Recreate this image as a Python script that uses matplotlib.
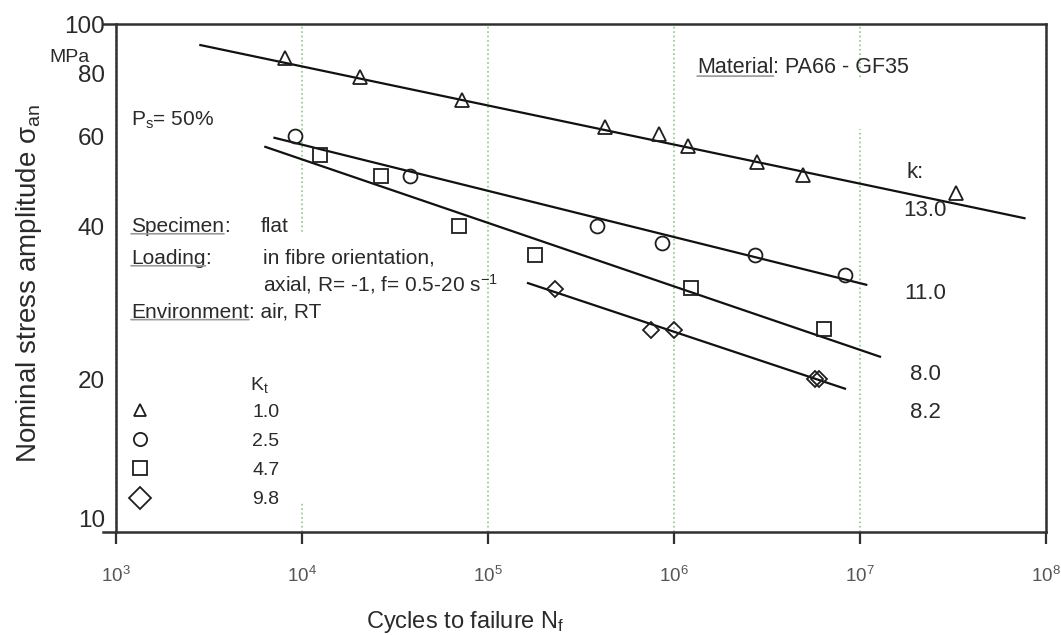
import numpy as np
import matplotlib
matplotlib.use('Agg')
import matplotlib.pyplot as plt
from matplotlib.patches import Rectangle
from matplotlib.ticker import NullLocator, LogLocator

plt.rcParams['font.family'] = ['Liberation Sans', 'DejaVu Sans']
plt.rcParams['mathtext.fontset'] = 'custom'
plt.rcParams['mathtext.rm'] = 'Liberation Sans'
plt.rcParams['mathtext.it'] = 'Liberation Sans:italic'
plt.rcParams['mathtext.bf'] = 'Liberation Sans:bold'

# S-N test results, PA66-GF35, one series per notch factor Kt
kt_labels = ['1.0', '2.5', '4.7', '9.8']
markers = ['^', 'o', 's', 'D']
msizes = [10.5, 10, 10, 8.2]

kt10_n = [8.07e3, 2.05e4, 7.24e4, 4.24e5, 8.32e5, 1.19e6, 2.81e6, 4.93e6, 3.27e7]
kt10_s = [85.7, 78.6, 70.7, 62.6, 60.7, 57.5, 53.5, 50.4, 46.4]
kt25_n = [9.22e3, 3.80e4, 3.85e5, 8.57e5, 2.73e6, 8.34e6]
kt25_s = [60.2, 50.1, 40.0, 37.1, 35.1, 32.1]
kt47_n = [1.25e4, 2.65e4, 7.00e4, 1.78e5, 1.23e6, 6.37e6]
kt47_s = [55.2, 50.1, 40.1, 35.1, 30.2, 25.1]
kt98_n = [2.28e5, 7.50e5, 1.00e6, 5.74e6, 5.98e6]
kt98_s = [30.1, 25.0, 25.0, 20.0, 20.0]

# Basquin lines: slope k, start point, end cycles
k_values = [13.0, 11.0, 8.0, 8.2]
line_n0 = [2.84e3, 7.11e3, 6.35e3, 1.64e5]
line_s0 = [90.9, 59.7, 57.3, 30.9]
line_n1 = [7.66e7, 1.08e7, 1.28e7, 8.30e6]

y_ticks = [10, 20, 40, 60, 80, 100]

txt = '#2a2a2a'

fig = plt.figure(figsize=(10.61, 6.35), dpi=100)
ax = fig.add_axes([0.0971, 0.1622, 0.8888, 0.8])
ax.set_xscale('log')
ax.set_yscale('log')
ax.set_xlim(10 ** (3 - 13 / 186), 1e8)
ax.set_ylim(10, 100)
ax.spines['left'].set_position(('data', 1e3))
for s in ax.spines.values():
    s.set_linewidth(1.8)
    s.set_color('#303030')

ax.set_axisbelow(True)
ax.grid(True, axis='x', which='major', color='#8cc88c', linestyle=':', linewidth=1.2)
ax.grid(False, axis='y')
# white backgrounds behind the annotation blocks
ax.add_patch(Rectangle((0.19, 0.059), 0.04, 0.53, transform=ax.transAxes,
                       color='white', zorder=1))
ax.add_patch(Rectangle((0.78, 0.795), 0.04, 0.099, transform=ax.transAxes,
                       color='white', zorder=1))

series = [(kt10_n, kt10_s), (kt25_n, kt25_s), (kt47_n, kt47_s), (kt98_n, kt98_s)]
handles = []
for (n, s), m, ms in zip(series, markers, msizes):
    h, = ax.plot(n, s, linestyle='none', marker=m, ms=ms, mfc='none',
                 mec='#1e1e1e', mew=1.3, zorder=3)
    handles.append(h)

for k, n0, s0, n1 in zip(k_values, line_n0, line_s0, line_n1):
    s1 = s0 * (n1 / n0) ** (-1.0 / k)
    ax.plot([n0, n1], [s0, s1], color='#111111', lw=1.6, zorder=2)

# axes ticks
ax.xaxis.set_major_locator(LogLocator(base=10, numticks=10))
ax.xaxis.set_minor_locator(NullLocator())
ax.tick_params(axis='x', which='major', direction='out', length=8.6, width=1.6,
               color='#303030', labelsize=13.5, labelcolor='#555555', pad=16)
ax.set_yticks(y_ticks)
ax.set_yticklabels([str(v) for v in y_ticks])
ax.yaxis.set_minor_locator(NullLocator())
ax.tick_params(axis='y', which='both', length=0, labelsize=17.5, labelcolor=txt, pad=8)
ax.get_yticklabels()[0].set_va('bottom')

ax.text(-0.0138, 0.935, 'MPa', transform=ax.transAxes, ha='right', va='center',
        fontsize=14, color=txt)

ax.set_ylabel('Nominal stress amplitude σ$_{\\mathrm{an}}$', fontsize=20, color=txt)
ax.yaxis.set_label_coords(-0.0626, 0.49)
ax.set_xlabel('Cycles to failure N$_{\\mathrm{f}}$', fontsize=17, color=txt)
ax.xaxis.label.set_ha('left')
ax.xaxis.set_label_coords(0.279, -0.1516)


def underlined(x, y, word, rest, size):
    t = ax.text(x, y, word, transform=ax.transAxes, fontsize=size, va='center',
                color=txt)
    if rest:
        ax.annotate(rest, xy=(1, 0), xycoords=t, va='bottom', ha='left',
                    fontsize=size, color=txt)
    ax.annotate('', xy=(0, 0.1), xycoords=t, xytext=(1, 0.1), textcoords=t,
                arrowprops=dict(arrowstyle='-', color='#9a9a9a', lw=1.2,
                                shrinkA=0, shrinkB=0))
    return t


fs = 15
ax.text(0.0297, 0.811, 'P$_{\\mathrm{s}}$= 50%', transform=ax.transAxes,
        fontsize=fs, va='center', color=txt)
underlined(0.0297, 0.602, 'Specimen', ':', fs)
ax.text(0.1675, 0.602, 'flat', transform=ax.transAxes, fontsize=fs, va='center', color=txt)
underlined(0.0297, 0.539, 'Loading', ':', fs)
ax.text(0.1697, 0.539, 'in fibre orientation,', transform=ax.transAxes,
        fontsize=fs, va='center', color=txt)
ax.text(0.1697, 0.488, 'axial, R= -1, f= 0.5-20 s$^{\\mathrm{-1}}$', transform=ax.transAxes,
        fontsize=fs, va='center', color=txt)
underlined(0.0297, 0.433, 'Environment', ': air, RT', fs)
underlined(0.630, 0.914, 'Material', ': PA66 - GF35', 15.5)

# slope labels
ax.text(0.8515, 0.7067, 'k:', transform=ax.transAxes, fontsize=16, va='center', color=txt)
k_ys = [0.632, 0.470, 0.311, 0.236]
for k, yk in zip(k_values, k_ys):
    ax.text(0.8717, yk, f'{k:.1f}', transform=ax.transAxes, fontsize=16,
            ha='center', va='center', color=txt)

# notch factor key
ax.text(0.156, 0.289, 'K$_{\\mathrm{t}}$', transform=ax.transAxes, fontsize=14,
        va='center', color=txt)
leg = ax.legend(handles, kt_labels, loc='upper left', bbox_to_anchor=(0.0286, 0.254),
                frameon=False, handlelength=1.0, handletextpad=5.3, labelspacing=0.6,
                fontsize=14, borderpad=0, borderaxespad=0)
for t in leg.get_texts():
    t.set_color(txt)
for h, ms in zip(leg.legend_handles, [9, 9.5, 10.5, 11.7]):
    h.set_markersize(ms)

fig.savefig('out.png', dpi=100)
